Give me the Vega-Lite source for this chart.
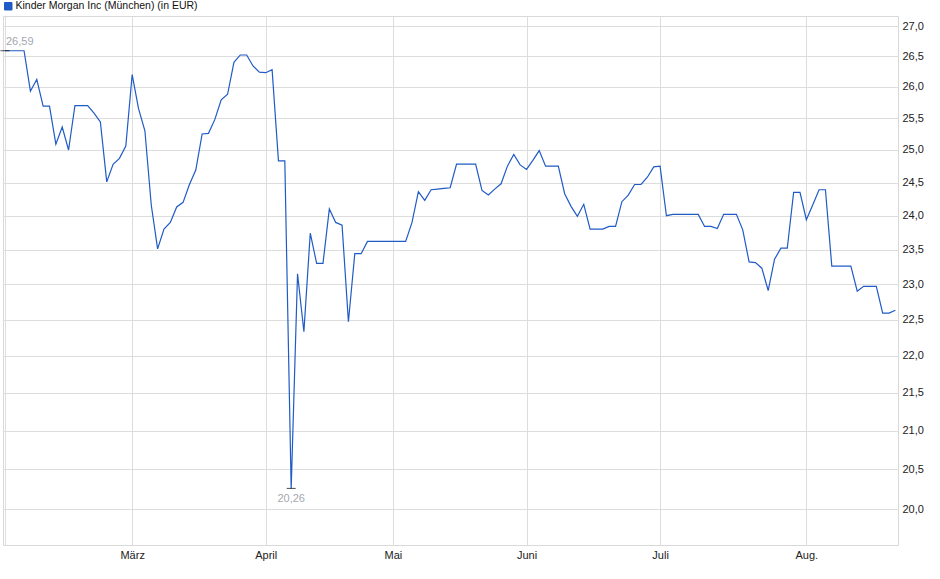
{
  "$schema": "https://vega.github.io/schema/vega-lite/v6.json",
  "width": 895,
  "height": 529,
  "autosize": "none",
  "padding": {"left": 3, "top": 16, "right": 42, "bottom": 34},
  "background": "white",
  "datasets": {
    "kurs": [
      {"n": 0, "datum": "2025-02-03", "kurs": 26.59},
      {"n": 1, "datum": "2025-02-04", "kurs": 26.59},
      {"n": 2, "datum": "2025-02-05", "kurs": 26.59},
      {"n": 3, "datum": "2025-02-06", "kurs": 26.59},
      {"n": 4, "datum": "2025-02-07", "kurs": 25.93},
      {"n": 5, "datum": "2025-02-10", "kurs": 26.12},
      {"n": 6, "datum": "2025-02-11", "kurs": 25.69},
      {"n": 7, "datum": "2025-02-12", "kurs": 25.69},
      {"n": 8, "datum": "2025-02-13", "kurs": 25.09},
      {"n": 9, "datum": "2025-02-14", "kurs": 25.36},
      {"n": 10, "datum": "2025-02-17", "kurs": 25.00},
      {"n": 11, "datum": "2025-02-18", "kurs": 25.70},
      {"n": 12, "datum": "2025-02-19", "kurs": 25.70},
      {"n": 13, "datum": "2025-02-20", "kurs": 25.70},
      {"n": 14, "datum": "2025-02-21", "kurs": 25.58},
      {"n": 15, "datum": "2025-02-24", "kurs": 25.44},
      {"n": 16, "datum": "2025-02-25", "kurs": 24.51},
      {"n": 17, "datum": "2025-02-26", "kurs": 24.78},
      {"n": 18, "datum": "2025-02-27", "kurs": 24.87},
      {"n": 19, "datum": "2025-02-28", "kurs": 25.06},
      {"n": 20, "datum": "2025-03-03", "kurs": 26.20},
      {"n": 21, "datum": "2025-03-04", "kurs": 25.65},
      {"n": 22, "datum": "2025-03-05", "kurs": 25.30},
      {"n": 23, "datum": "2025-03-06", "kurs": 24.16},
      {"n": 24, "datum": "2025-03-07", "kurs": 23.51},
      {"n": 25, "datum": "2025-03-10", "kurs": 23.80},
      {"n": 26, "datum": "2025-03-11", "kurs": 23.90},
      {"n": 27, "datum": "2025-03-12", "kurs": 24.13},
      {"n": 28, "datum": "2025-03-13", "kurs": 24.20},
      {"n": 29, "datum": "2025-03-14", "kurs": 24.47},
      {"n": 30, "datum": "2025-03-17", "kurs": 24.69},
      {"n": 31, "datum": "2025-03-18", "kurs": 25.25},
      {"n": 32, "datum": "2025-03-19", "kurs": 25.26},
      {"n": 33, "datum": "2025-03-20", "kurs": 25.48},
      {"n": 34, "datum": "2025-03-21", "kurs": 25.79},
      {"n": 35, "datum": "2025-03-24", "kurs": 25.88},
      {"n": 36, "datum": "2025-03-25", "kurs": 26.40},
      {"n": 37, "datum": "2025-03-26", "kurs": 26.52},
      {"n": 38, "datum": "2025-03-27", "kurs": 26.52},
      {"n": 39, "datum": "2025-03-28", "kurs": 26.34},
      {"n": 40, "datum": "2025-03-31", "kurs": 26.24},
      {"n": 41, "datum": "2025-04-01", "kurs": 26.23},
      {"n": 42, "datum": "2025-04-02", "kurs": 26.28},
      {"n": 43, "datum": "2025-04-03", "kurs": 24.83},
      {"n": 44, "datum": "2025-04-04", "kurs": 24.83},
      {"n": 45, "datum": "2025-04-07", "kurs": 20.26},
      {"n": 46, "datum": "2025-04-08", "kurs": 23.15},
      {"n": 47, "datum": "2025-04-09", "kurs": 22.33},
      {"n": 48, "datum": "2025-04-10", "kurs": 23.74},
      {"n": 49, "datum": "2025-04-11", "kurs": 23.30},
      {"n": 50, "datum": "2025-04-14", "kurs": 23.30},
      {"n": 51, "datum": "2025-04-15", "kurs": 24.10},
      {"n": 52, "datum": "2025-04-16", "kurs": 23.90},
      {"n": 53, "datum": "2025-04-17", "kurs": 23.86},
      {"n": 54, "datum": "2025-04-22", "kurs": 22.47},
      {"n": 55, "datum": "2025-04-23", "kurs": 23.44},
      {"n": 56, "datum": "2025-04-24", "kurs": 23.44},
      {"n": 57, "datum": "2025-04-25", "kurs": 23.62},
      {"n": 58, "datum": "2025-04-28", "kurs": 23.62},
      {"n": 59, "datum": "2025-04-29", "kurs": 23.62},
      {"n": 60, "datum": "2025-04-30", "kurs": 23.62},
      {"n": 61, "datum": "2025-05-02", "kurs": 23.62},
      {"n": 62, "datum": "2025-05-05", "kurs": 23.62},
      {"n": 63, "datum": "2025-05-06", "kurs": 23.62},
      {"n": 64, "datum": "2025-05-07", "kurs": 23.90},
      {"n": 65, "datum": "2025-05-08", "kurs": 24.36},
      {"n": 66, "datum": "2025-05-09", "kurs": 24.23},
      {"n": 67, "datum": "2025-05-12", "kurs": 24.39},
      {"n": 68, "datum": "2025-05-13", "kurs": 24.40},
      {"n": 69, "datum": "2025-05-14", "kurs": 24.41},
      {"n": 70, "datum": "2025-05-15", "kurs": 24.42},
      {"n": 71, "datum": "2025-05-16", "kurs": 24.78},
      {"n": 72, "datum": "2025-05-19", "kurs": 24.78},
      {"n": 73, "datum": "2025-05-20", "kurs": 24.78},
      {"n": 74, "datum": "2025-05-21", "kurs": 24.78},
      {"n": 75, "datum": "2025-05-22", "kurs": 24.38},
      {"n": 76, "datum": "2025-05-23", "kurs": 24.31},
      {"n": 77, "datum": "2025-05-26", "kurs": 24.40},
      {"n": 78, "datum": "2025-05-27", "kurs": 24.48},
      {"n": 79, "datum": "2025-05-28", "kurs": 24.75},
      {"n": 80, "datum": "2025-05-29", "kurs": 24.93},
      {"n": 81, "datum": "2025-05-30", "kurs": 24.77},
      {"n": 82, "datum": "2025-06-02", "kurs": 24.70},
      {"n": 83, "datum": "2025-06-03", "kurs": 24.84},
      {"n": 84, "datum": "2025-06-04", "kurs": 24.99},
      {"n": 85, "datum": "2025-06-05", "kurs": 24.75},
      {"n": 86, "datum": "2025-06-06", "kurs": 24.75},
      {"n": 87, "datum": "2025-06-09", "kurs": 24.75},
      {"n": 88, "datum": "2025-06-10", "kurs": 24.33},
      {"n": 89, "datum": "2025-06-11", "kurs": 24.14},
      {"n": 90, "datum": "2025-06-12", "kurs": 23.99},
      {"n": 91, "datum": "2025-06-13", "kurs": 24.17},
      {"n": 92, "datum": "2025-06-16", "kurs": 23.80},
      {"n": 93, "datum": "2025-06-17", "kurs": 23.80},
      {"n": 94, "datum": "2025-06-18", "kurs": 23.80},
      {"n": 95, "datum": "2025-06-19", "kurs": 23.84},
      {"n": 96, "datum": "2025-06-20", "kurs": 23.84},
      {"n": 97, "datum": "2025-06-23", "kurs": 24.21},
      {"n": 98, "datum": "2025-06-24", "kurs": 24.31},
      {"n": 99, "datum": "2025-06-25", "kurs": 24.47},
      {"n": 100, "datum": "2025-06-26", "kurs": 24.47},
      {"n": 101, "datum": "2025-06-27", "kurs": 24.58},
      {"n": 102, "datum": "2025-06-30", "kurs": 24.74},
      {"n": 103, "datum": "2025-07-01", "kurs": 24.75},
      {"n": 104, "datum": "2025-07-02", "kurs": 24.00},
      {"n": 105, "datum": "2025-07-03", "kurs": 24.02},
      {"n": 106, "datum": "2025-07-04", "kurs": 24.02},
      {"n": 107, "datum": "2025-07-07", "kurs": 24.02},
      {"n": 108, "datum": "2025-07-08", "kurs": 24.02},
      {"n": 109, "datum": "2025-07-09", "kurs": 24.02},
      {"n": 110, "datum": "2025-07-10", "kurs": 23.84},
      {"n": 111, "datum": "2025-07-11", "kurs": 23.84},
      {"n": 112, "datum": "2025-07-14", "kurs": 23.81},
      {"n": 113, "datum": "2025-07-15", "kurs": 24.02},
      {"n": 114, "datum": "2025-07-16", "kurs": 24.02},
      {"n": 115, "datum": "2025-07-17", "kurs": 24.02},
      {"n": 116, "datum": "2025-07-18", "kurs": 23.79},
      {"n": 117, "datum": "2025-07-21", "kurs": 23.32},
      {"n": 118, "datum": "2025-07-22", "kurs": 23.31},
      {"n": 119, "datum": "2025-07-23", "kurs": 23.23},
      {"n": 120, "datum": "2025-07-24", "kurs": 22.91},
      {"n": 121, "datum": "2025-07-25", "kurs": 23.36},
      {"n": 122, "datum": "2025-07-28", "kurs": 23.52},
      {"n": 123, "datum": "2025-07-29", "kurs": 23.52},
      {"n": 124, "datum": "2025-07-30", "kurs": 24.35},
      {"n": 125, "datum": "2025-07-31", "kurs": 24.35},
      {"n": 126, "datum": "2025-08-01", "kurs": 23.94},
      {"n": 127, "datum": "2025-08-04", "kurs": 24.16},
      {"n": 128, "datum": "2025-08-05", "kurs": 24.39},
      {"n": 129, "datum": "2025-08-06", "kurs": 24.39},
      {"n": 130, "datum": "2025-08-07", "kurs": 23.26},
      {"n": 131, "datum": "2025-08-08", "kurs": 23.26},
      {"n": 132, "datum": "2025-08-11", "kurs": 23.26},
      {"n": 133, "datum": "2025-08-12", "kurs": 23.26},
      {"n": 134, "datum": "2025-08-13", "kurs": 22.90},
      {"n": 135, "datum": "2025-08-14", "kurs": 22.97},
      {"n": 136, "datum": "2025-08-15", "kurs": 22.97},
      {"n": 137, "datum": "2025-08-18", "kurs": 22.97},
      {"n": 138, "datum": "2025-08-19", "kurs": 22.59},
      {"n": 139, "datum": "2025-08-20", "kurs": 22.59},
      {"n": 140, "datum": "2025-08-21", "kurs": 22.63}
    ],
    "extreme": [
      {"n": 0, "kurs": 26.59, "art": "max", "text": "26,59"},
      {"n": 45, "kurs": 20.26, "art": "min", "text": "20,26"}
    ]
  },
  "encoding": {
    "x": {
      "field": "n",
      "type": "quantitative",
      "scale": {"domain": [-0.31, 140.41], "nice": false, "zero": false},
      "axis": {
        "title": null,
        "values": [0, 20, 41, 61, 82, 103, 126],
        "labelExpr": "datum.value == 20 ? 'März' : datum.value == 41 ? 'April' : datum.value == 61 ? 'Mai' : datum.value == 82 ? 'Juni' : datum.value == 103 ? 'Juli' : datum.value == 126 ? 'Aug.' : ''",
        "grid": true,
        "domain": false,
        "ticks": false,
        "labelPadding": 4,
        "labelFlush": false,
        "labelOverlap": false
      }
    },
    "y": {
      "field": "kurs",
      "type": "quantitative",
      "scale": {"type": "log", "domain": [19.56, 27.17], "nice": false, "zero": false},
      "axis": {
        "orient": "right",
        "title": null,
        "values": [20, 20.5, 21, 21.5, 22, 22.5, 23, 23.5, 24, 24.5, 25, 25.5, 26, 26.5, 27],
        "labelExpr": "replace(format(datum.value, '.1f'), '.', ',')",
        "grid": true,
        "domain": false,
        "ticks": false,
        "labelPadding": 4,
        "labelOverlap": false
      }
    }
  },
  "layer": [
    {
      "data": {"name": "kurs"},
      "mark": {"type": "line", "strokeWidth": 1.2, "interpolate": "linear"},
      "encoding": {
        "color": {
          "datum": "Kinder Morgan Inc (München) (in EUR)",
          "scale": {"range": ["#1f5bc6"]},
          "legend": {
            "title": null,
            "orient": "none",
            "legendX": 0,
            "legendY": -15,
            "symbolType": "square",
            "symbolSize": 56,
            "labelOffset": 2,
            "labelFontSize": 10.5,
            "labelColor": "#111111",
            "labelLimit": 0,
            "padding": 0,
            "encode": {
              "symbols": {"update": {"fill": {"value": "#1f5bc6"}, "stroke": {"value": "#0e2d6e"}, "strokeWidth": {"value": 1}}}
            }
          }
        },
        "tooltip": [
          {"field": "datum", "type": "nominal"},
          {"field": "kurs", "type": "quantitative"}
        ]
      }
    },
    {
      "data": {"name": "extreme"},
      "mark": {"type": "tick", "orient": "horizontal", "color": "black", "size": 9, "thickness": 1},
      "encoding": {}
    },
    {
      "data": {"name": "extreme"},
      "transform": [{"filter": "datum.art == 'max'"}],
      "mark": {"type": "text", "align": "left", "baseline": "middle", "dx": 1, "dy": -9, "fontSize": 11, "color": "#a2a7b0"},
      "encoding": {"text": {"field": "text"}}
    },
    {
      "data": {"name": "extreme"},
      "transform": [{"filter": "datum.art == 'min'"}],
      "mark": {"type": "text", "align": "center", "baseline": "middle", "dy": 11, "fontSize": 11, "color": "#a2a7b0"},
      "encoding": {"text": {"field": "text"}}
    }
  ],
  "config": {
    "font": "Liberation Sans",
    "view": {"stroke": "#d9d9d9", "strokeWidth": 1},
    "axis": {
      "gridColor": "#dddddd",
      "gridWidth": 1,
      "labelFont": "Liberation Sans",
      "labelFontSize": 11,
      "labelColor": "#222222"
    },
    "legend": {"labelFont": "Liberation Sans"}
  }
}
